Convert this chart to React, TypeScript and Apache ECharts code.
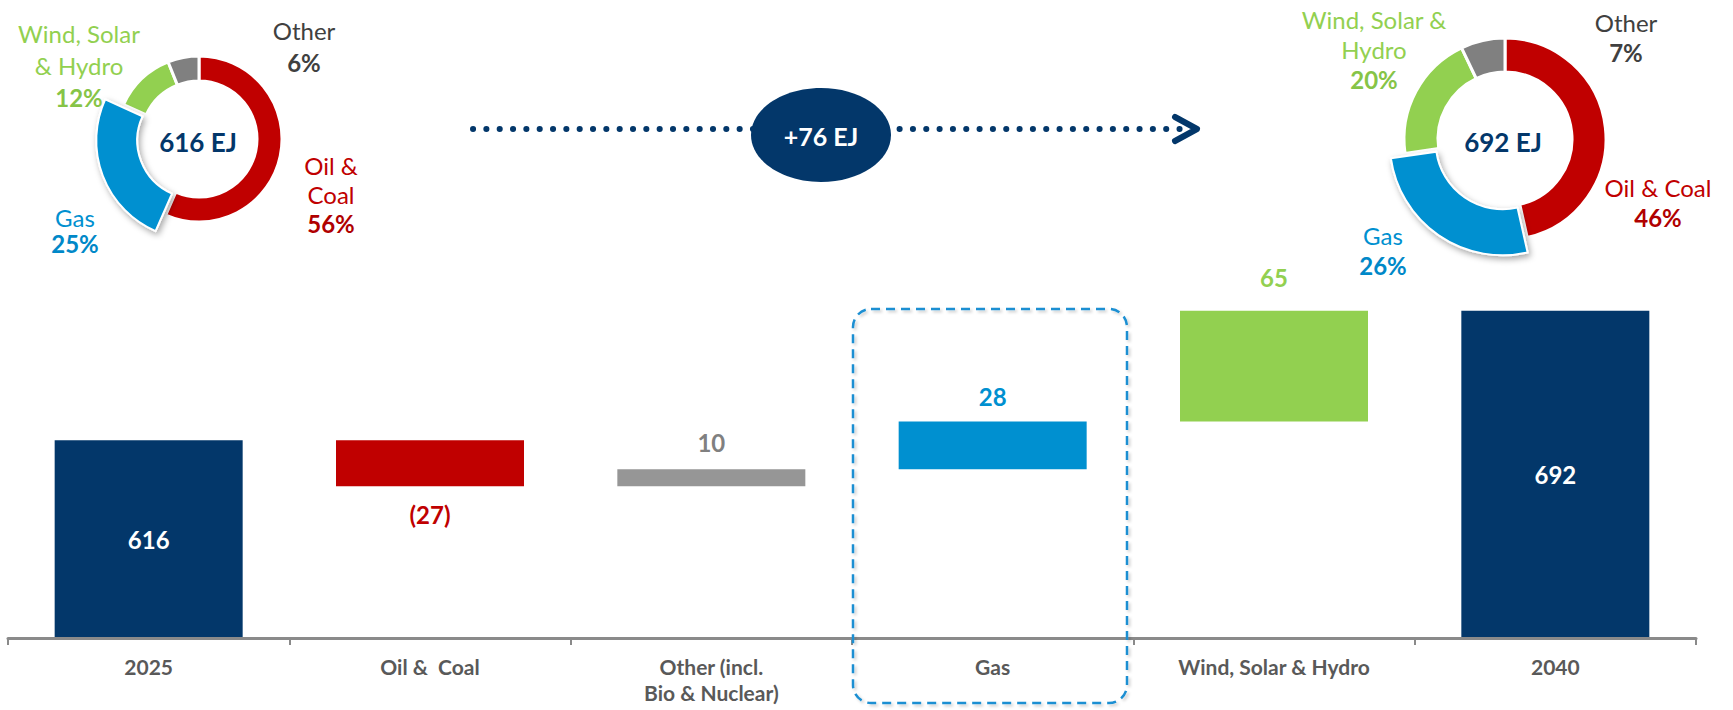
import React, { useEffect, useRef } from 'react';
import * as echarts from 'echarts';

// ---------- data ----------
const categories = ['2025', 'Oil &  Coal', 'Other (incl.\nBio & Nuclear)', 'Gas', 'Wind, Solar & Hydro', '2040'];
const changes = [616, -27, 10, 28, 65, 692];
const isTotal = [true, false, false, false, false, true];

const mixNames = ['Oil & Coal', 'Gas', 'Wind, Solar & Hydro', 'Other'];
const mix2025 = [56, 25, 12, 6];
const mix2040 = [46, 26, 20, 7];
const total2025 = 616;
const total2040 = 692;

// label line breaks per donut (text layout only)
const labelLines2025 = [['Oil &', 'Coal'], ['Gas'], ['Wind, Solar', '& Hydro'], ['Other']];
const labelLines2040 = [['Oil & Coal'], ['Gas'], ['Wind, Solar &', 'Hydro'], ['Other']];

// ---------- styles ----------
const NAVY = '#03376a';
const barColors = [NAVY, '#c00000', '#969696', '#0090d0', '#92d050', NAVY];
const barLabelColors = ['#ffffff', '#c00000', '#808080', '#0090d0', '#92d050', '#ffffff'];
const barLabelGap = [0, 16, 15, 13, 21, 0];
const pieColors = ['#c00000', '#0090d0', '#92d050', '#808080'];
const pieTextColors = ['#c00000', '#0090d0', '#92d050', '#404040'];
const pctColors = ['#b00000', '#0088c8', '#86c447', '#404040'];
const FONT = 'Lato, "Noto Sans", sans-serif';

// label anchor positions [x, firstLineY, lineHeight] per slice
const labelPos2025 = [[331, 165, 29], [75, 217, 26], [79, 33, 32], [304, 30, 32]];
const labelPos2040 = [[1658, 187, 30], [1383, 235, 30], [1374, 19, 30], [1626, 22, 30]];

function donutTexts(lines: string[][], values: number[], pos: number[][]) {
  const out: any[] = [];
  lines.forEach((ls, i) => {
    const [x, y0, lh] = pos[i];
    ls.forEach((t, j) => {
      out.push({
        type: 'text', x, y: y0 + j * lh, z: 20,
        style: { text: t, fill: pieTextColors[i], fontSize: 24, fontFamily: FONT, fontWeight: 'normal', textAlign: 'center', textVerticalAlign: 'middle' },
      });
    });
    out.push({
      type: 'text', x, y: y0 + ls.length * lh, z: 20,
      style: { text: values[i] + '%', fill: pctColors[i], fontSize: 24, fontFamily: FONT, fontWeight: 'bold', textAlign: 'center', textVerticalAlign: 'middle' },
    });
  });
  return out;
}

function pieSeries(values: number[], center: number[], inner: number, outer: number, gasOuter: number) {
  const ring = {
    type: 'pie', center, radius: [inner, outer], startAngle: 90, clockwise: true, silent: true,
    label: { show: false }, labelLine: { show: false }, emphasis: { disabled: true }, z: 3,
    data: mixNames.map((n, i) => ({
      name: n, value: values[i],
      itemStyle: i === 1
        ? { color: 'transparent', borderWidth: 0 }
        : { color: pieColors[i], borderColor: '#ffffff', borderWidth: 3 },
    })),
  };
  const gas = {
    type: 'pie', center, radius: [inner, gasOuter], startAngle: 90, clockwise: true, silent: true,
    selectedMode: 'single', selectedOffset: 4,
    label: { show: false }, labelLine: { show: false }, emphasis: { disabled: true }, z: 4,
    data: mixNames.map((n, i) => ({
      name: n, value: values[i], selected: i === 1,
      itemStyle: i === 1
        ? { color: pieColors[i], borderColor: '#ffffff', borderWidth: 2, shadowBlur: 6, shadowColor: 'rgba(0,0,0,0.35)', shadowOffsetX: 2, shadowOffsetY: 3 }
        : { color: 'transparent', borderWidth: 0 },
    })),
  };
  return [ring, gas];
}

export default function App() {
  const ref = useRef<HTMLDivElement>(null);
  useEffect(() => {
    const chart = echarts.init(ref.current!, null, { renderer: 'svg' });

    const bases: number[] = [];
    const heights: number[] = [];
    let running = 0;
    changes.forEach((c, i) => {
      if (isTotal[i]) {
        bases.push(0); heights.push(c); running = c;
      } else {
        bases.push(c < 0 ? running + c : running); heights.push(Math.abs(c)); running += c;
      }
    });

    const labelFor = (i: number) => {
      const c = changes[i];
      const common = { show: true, color: barLabelColors[i], fontSize: 24, fontWeight: 'bold', fontFamily: FONT };
      if (isTotal[i]) return { ...common, position: 'inside', formatter: String(c) };
      if (c < 0) return { ...common, position: 'bottom', distance: barLabelGap[i], formatter: '(' + (-c) + ')' };
      return { ...common, position: 'top', distance: barLabelGap[i], formatter: String(c) };
    };

    const growth = total2040 - total2025;

    chart.setOption({
      animation: false,
      backgroundColor: '#ffffff',
      grid: { left: 8, right: 37, top: 297, bottom: 72, containLabel: false },
      xAxis: {
        type: 'category', data: categories, z: 5,
        axisLine: { show: true, lineStyle: { color: '#8a8a8a', width: 3 } },
        axisTick: { show: true, length: 7, lineStyle: { color: '#8a8a8a', width: 2 } },
        axisLabel: { color: '#595959', fontSize: 21, fontWeight: 'bold', fontFamily: FONT, margin: 15, lineHeight: 26, interval: 0 },
      },
      yAxis: { type: 'value', min: 500, max: 700, show: false, splitLine: { show: false } },
      series: [
        { type: 'bar', stack: 'w', barWidth: 188, silent: true, itemStyle: { color: 'transparent' }, data: bases },
        {
          type: 'bar', stack: 'w', barWidth: 188, silent: true,
          data: heights.map((h, i) => ({ value: h, itemStyle: { color: barColors[i] }, label: labelFor(i) })),
        },
        ...pieSeries(mix2025, [199, 139], 58, 83, 99),
        ...pieSeries(mix2040, [1505, 139], 67, 101, 113),
      ],
      graphic: [
        // dotted arrow
        { type: 'line', z: 10, shape: { x1: 473, y1: 129, x2: 1183, y2: 129 }, style: { stroke: NAVY, lineWidth: 6, lineCap: 'round', lineDash: [0.1, 13.23] } },
        { type: 'polyline', z: 10, shape: { points: [[1175, 117], [1197, 129], [1175, 141]] }, style: { stroke: NAVY, lineWidth: 6, lineCap: 'round', lineJoin: 'round', fill: 'none' } },
        { type: 'ellipse', z: 11, shape: { cx: 821, cy: 135, rx: 70, ry: 47 }, style: { fill: NAVY } },
        { type: 'text', z: 12, x: 821, y: 136, style: { text: '+' + growth + ' EJ', fill: '#ffffff', fontSize: 25, fontWeight: 'bold', fontFamily: FONT, textAlign: 'center', textVerticalAlign: 'middle' } },
        // donut centers
        { type: 'text', z: 12, x: 198, y: 142, style: { text: total2025 + ' EJ', fill: NAVY, fontSize: 26, fontWeight: 'bold', fontFamily: FONT, textAlign: 'center', textVerticalAlign: 'middle' } },
        { type: 'text', z: 12, x: 1503, y: 142, style: { text: total2040 + ' EJ', fill: NAVY, fontSize: 26, fontWeight: 'bold', fontFamily: FONT, textAlign: 'center', textVerticalAlign: 'middle' } },
        ...donutTexts(labelLines2025, mix2025, labelPos2025),
        ...donutTexts(labelLines2040, mix2040, labelPos2040),
        // highlight box around Gas
        { type: 'rect', z: 10, shape: { x: 853, y: 309, width: 274, height: 394, r: 18 }, style: { fill: 'none', stroke: '#1b8fd2', lineWidth: 2.5, lineDash: [9, 6], shadowBlur: 3, shadowColor: 'rgba(0,0,0,0.2)', shadowOffsetX: 2, shadowOffsetY: 2 } },
      ],
    });
    return () => chart.dispose();
  }, []);
  return <div ref={ref} style={{ position: 'absolute', left: 0, top: 0, width: 1733, height: 710 }} />;
}
